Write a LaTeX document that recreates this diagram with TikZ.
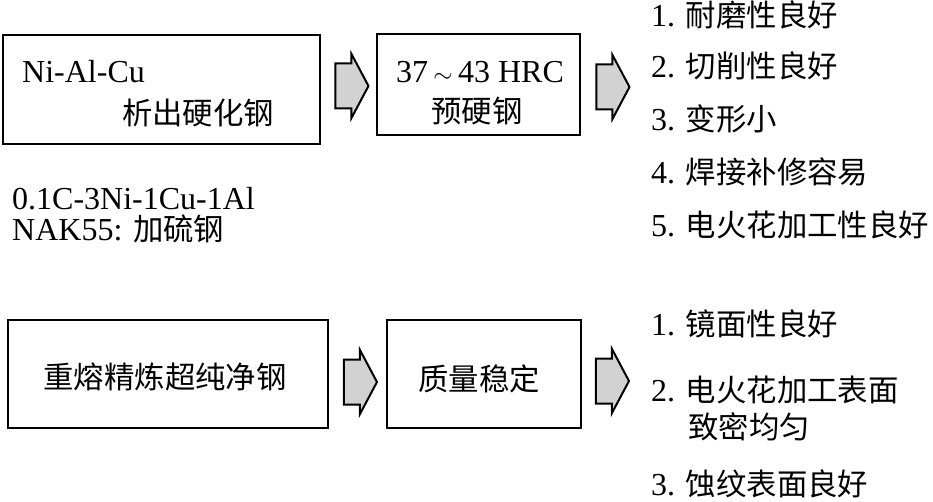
\documentclass[tikz,border=0pt]{standalone}
\usepackage{fontspec}
\setmainfont{Liberation Serif}
\newfontfamily\cjk[Scale=0.95]{Noto Sans CJK SC}
\usetikzlibrary{shapes.arrows}
\tikzset{
  every node/.style={inner sep=0pt, font=\fontsize{32}{38}\selectfont},
  box/.style={draw, line width=2.2pt},
  blockarr/.style={single arrow, draw, line width=2pt, fill=gray!35,
    inner xsep=0pt, inner ysep=21.5pt, minimum height=33pt,
    single arrow head extend=9.5pt, single arrow tip angle=124}
}
\begin{document}
\begin{tikzpicture}[x=1pt,y=-1pt]
\useasboundingbox (0,0) rectangle (933,502);
\path node[box, minimum width=317pt, minimum height=109pt] (NAC) at (161.5,89.5) {}
node[box, minimum width=203pt, minimum height=101pt] (PH) at (478.5,84.5) {}
node[box, minimum width=320pt, minimum height=108pt] (ESR) at (168,374) {}
node[box, minimum width=194pt, minimum height=108pt] (QS) at (484,374) {}
node[blockarr] (ar1) at (346,86) {}
node[blockarr] (ar2) at (607,87) {}
node[blockarr] (ar3) at (354.5,382) {}
node[blockarr] (ar4) at (606.5,381) {}
node[anchor=base west] (NACa) at (22,83) {Ni-Al-Cu}
node[anchor=base] (NACb) at (198,125) {\cjk 析出硬化钢}
node[anchor=base] (PHa) at (480,83) {37\,$\sim$\,43 HRC}
node[anchor=base] (PHb) at (477,123) {\cjk 预硬钢}
node[anchor=base west] (comp) at (12,210) {0.1C-3Ni-1Cu-1Al}
node[anchor=base west] (NAK) at (12,241) {NAK55: {\cjk 加硫钢}}
node[anchor=base] (ESRa) at (165,388) {\cjk 重熔精炼超纯净钢}
node[anchor=base] (QSa) at (479,390) {\cjk 质量稳定}
node[anchor=base west] (P1) at (651,27) {1. {\cjk 耐磨性良好}}
node[anchor=base west] (P2) at (651,78) {2. {\cjk 切削性良好}}
node[anchor=base west] (P3) at (651,131) {3. {\cjk 变形小}}
node[anchor=base west] (P4) at (651,184) {4. {\cjk 焊接补修容易}}
node[anchor=base west] (P5) at (651,237) {5. {\cjk 电火花加工性良好}}
node[anchor=base west] (Q1) at (651,335) {1. {\cjk 镜面性良好}}
node[anchor=base west] (Q2) at (651,401) {2. {\cjk 电火花加工表面}}
node[anchor=base west] (Q2b) at (688,438) {\cjk 致密均匀}
node[anchor=base west] (Q3) at (651,495) {3. {\cjk 蚀纹表面良好}}
;
\end{tikzpicture}
\end{document}
